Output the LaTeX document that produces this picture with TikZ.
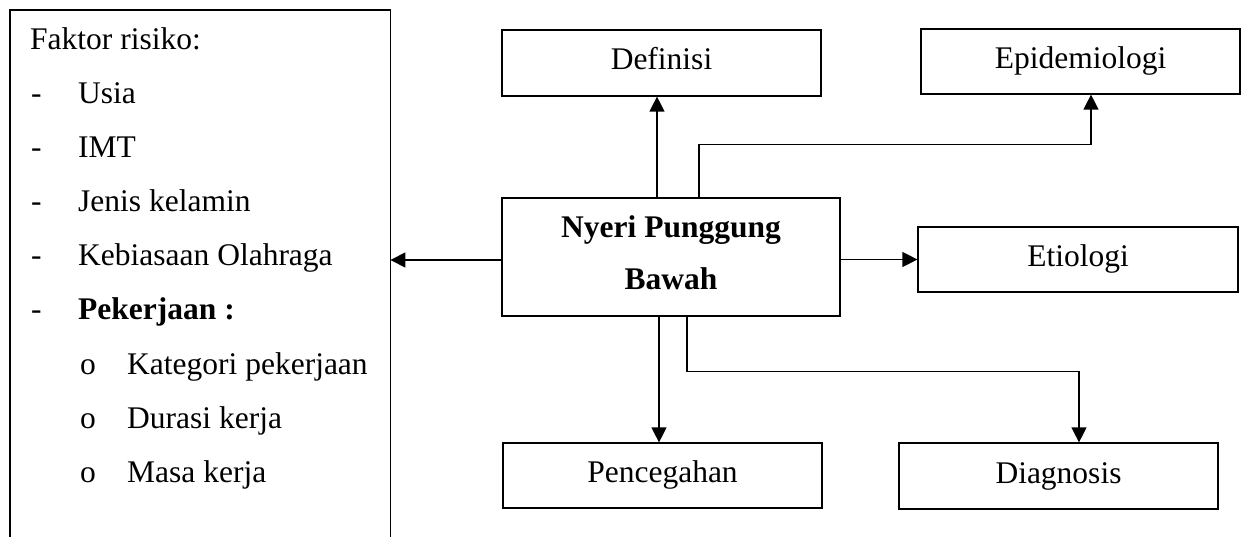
\documentclass[tikz,border=0pt]{standalone}
\usepackage{fontspec}
\setmainfont{Liberation Serif}
\usetikzlibrary{arrows.meta,calc}
\tikzset{
  fs/.style={font=\fontsize{31.5}{38}\selectfont},
  frame/.style={draw, line width=1.2pt, inner sep=0pt},
  box/.style={frame, fs, text height=22pt, text depth=8pt},
  txt/.style={fs, inner sep=0pt, anchor=base west},
  conn/.style={line width=1.2pt},
  arr/.style={conn, -{Triangle[length=15pt,width=15pt]}}
}
\begin{document}
\begin{tikzpicture}[x=1pt,y=-1pt]
\useasboundingbox (0,0) rectangle (1248,537);
% left box (open at the bottom)
\node[minimum width=380pt, minimum height=570pt, anchor=north west, inner sep=0pt] (faktor) at (10,10) {};
\draw[conn] (faktor.south west) -- (faktor.north west) -- (faktor.north east) -- (faktor.south east);
\node[txt] (f0) at (30,50) {Faktor risiko:};
\node[txt] (d1) at (31,104) {-};
\node[txt] (f1) at (78,104) {Usia};
\node[txt] (d2) at (31,158) {-};
\node[txt] (f2) at (78,158) {IMT};
\node[txt] (d3) at (31,212) {-};
\node[txt] (f3) at (78,212) {Jenis kelamin};
\node[txt] (d4) at (31,266) {-};
\node[txt] (f4) at (78,266) {Kebiasaan Olahraga};
\node[txt] (d5) at (31,320) {-};
\node[txt] (f5) at (78,320) {\bfseries Pekerjaan :};
\node[txt] (o1) at (80,374) {o};
\node[txt] (g1) at (127,374) {Kategori pekerjaan};
\node[txt] (o2) at (80,428) {o};
\node[txt] (g2) at (127,428) {Durasi kerja};
\node[txt] (o3) at (80,482) {o};
\node[txt] (g3) at (127,482) {Masa kerja};
% boxes
\node[box, minimum width=319pt, minimum height=66pt] (def) at (661.5,63) {Definisi};
\node[box, minimum width=319pt, minimum height=65pt] (epi) at (1080.5,61.5) {Epidemiologi};
\node[frame, minimum width=338pt, minimum height=118pt] (nyeri) at (671,257) {};
\node[inner sep=0pt, align=center, font=\fontsize{31.5}{52}\selectfont\bfseries, anchor=base] (nyerit) at (671,290) {Nyeri Punggung\\Bawah};
\node[box, minimum width=320pt, minimum height=65pt] (etio) at (1078,259.5) {Etiologi};
\node[box, minimum width=319pt, minimum height=65pt] (penc) at (662.5,475.5) {Pencegahan};
\node[box, minimum width=319pt, minimum height=66pt] (diag) at (1058.5,476) {Diagnosis};
% connectors
\coordinate (a1) at ($(nyeri.north)+(-14,0)$);
\draw[arr] (a1) -- (a1 |- def.south);
\coordinate (e1) at ($(nyeri.north)+(28,0)$);
\coordinate (e2) at ($(epi.south)+(10.5,0)$);
\draw[arr] (e1) |- ($(e2)+(0,50)$) -- (e2);
\draw[arr] (nyeri.east |- etio.west) -- (etio.west);
\coordinate (l1) at ($(nyeri.west)+(0,3)$);
\draw[arr] (l1) -- (l1 -| faktor.east);
\coordinate (p1) at ($(nyeri.south)+(-12,0)$);
\draw[arr] (p1) -- (p1 |- penc.north);
\coordinate (q1) at ($(nyeri.south)+(16,0)$);
\coordinate (q2) at ($(diag.north)+(20.5,0)$);
\draw[arr] (q1) |- ($(q2)+(0,-71)$) -- (q2);
\end{tikzpicture}
\end{document}
